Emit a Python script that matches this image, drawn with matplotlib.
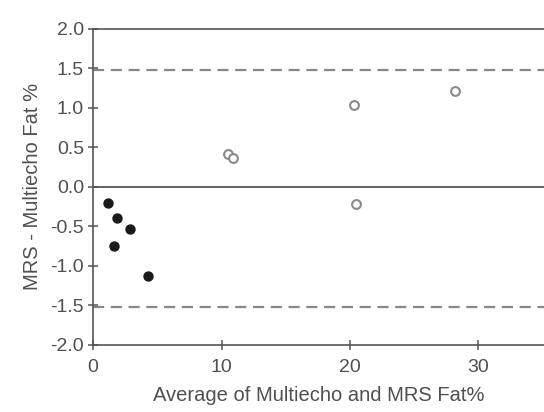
import matplotlib.pyplot as plt
from matplotlib.ticker import FuncFormatter

plt.rcParams['font.family'] = ['Liberation Sans', 'DejaVu Sans']

# low-fat subjects (filled) and higher-fat subjects (open)
low_avg = [1.2, 1.85, 2.9, 1.6, 4.3]
low_diff = [-0.2, -0.4, -0.53, -0.75, -1.13]
high_avg = [10.5, 10.9, 20.3, 28.2, 20.5]
high_diff = [0.41, 0.36, 1.04, 1.21, -0.22]

limits = [1.48, -1.52]
yticks = [2.0, 1.5, 1.0, 0.5, 0.0, -0.5, -1.0, -1.5, -2.0]
xticks = [0, 10, 20, 30]

fig = plt.figure(figsize=(5.44, 4.12), dpi=100)
ax = fig.add_axes([0.171, 0.163, 0.829, 0.767])

txt = '#505050'
ax.axhline(0, color='#555555', lw=1.3, zorder=1)
for lim in limits:
    ax.axhline(lim, color='#888888', lw=1.6, ls=(0, (5, 3)), zorder=1)

ax.scatter(low_avg, low_diff, s=42, color='#1a1a1a', zorder=3)
ax.scatter(high_avg, high_diff, s=40, facecolor='white', edgecolor='#8a8a8a',
           lw=1.5, zorder=3)

ax.set_xlim(0, 35.1)
ax.set_ylim(-2.0, 2.0)
ax.set_xticks(xticks)
ax.set_yticks(yticks)
ax.yaxis.set_major_formatter(FuncFormatter(lambda v, p: ('%.1f' % v).replace('-0.0', '0.0')))
ax.set_xticklabels(['0', '10', '20', '30'])

for side in ['left', 'bottom', 'top']:
    ax.spines[side].set_color('#555555')
    ax.spines[side].set_linewidth(1.2)
ax.spines['right'].set_visible(False)

ax.tick_params(direction='inout', length=7, width=1.1, color='#555555',
               labelsize=14, labelcolor=txt, pad=3)
ax.tick_params(axis='x', pad=7)
ax.set_xlabel('Average of Multiecho and MRS Fat%', fontsize=14.5, color=txt, labelpad=7)
ax.set_ylabel('MRS - Multiecho Fat %', fontsize=14.5, color=txt, labelpad=6)

fig.savefig('out.png', dpi=100)
